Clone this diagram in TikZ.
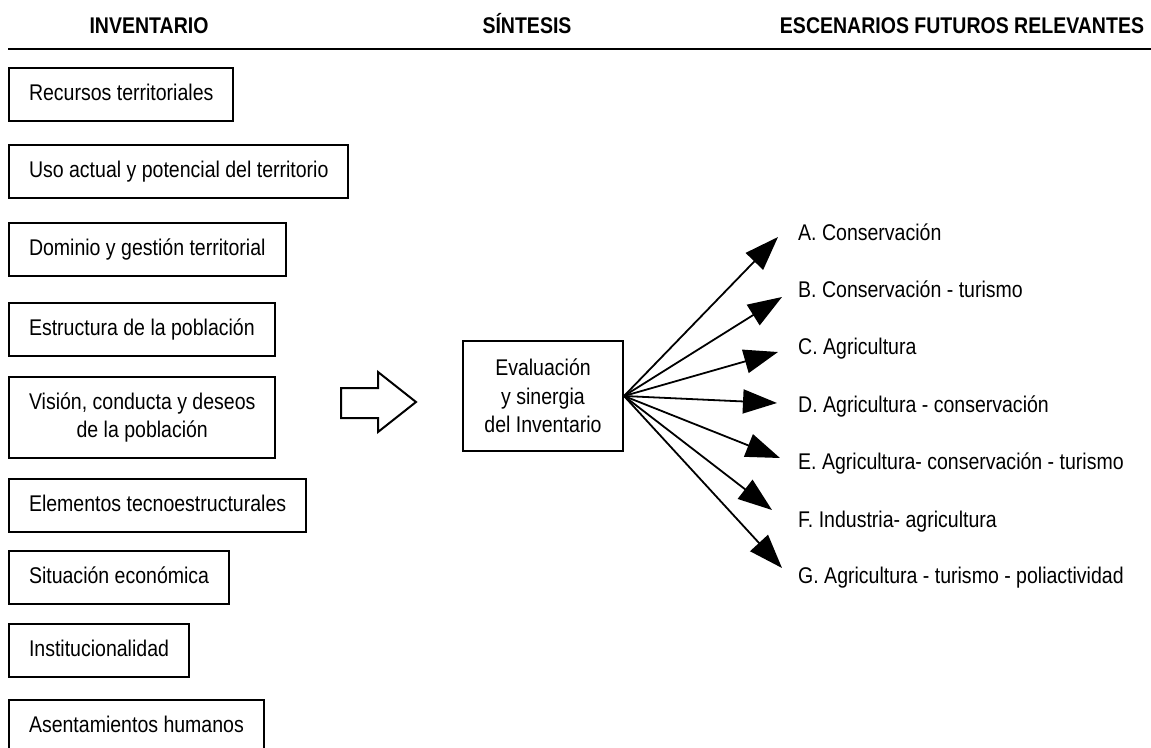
\documentclass[tikz,border=0pt]{standalone}
\usepackage{fontspec}
\setmainfont{Liberation Sans}[FakeStretch=0.86]
\usetikzlibrary{arrows.meta}

\begin{document}
\begin{tikzpicture}[x=1pt, y=-1pt,
    font=\fontsize{22.7}{28.5}\selectfont,
    caja/.style={draw, line width=2pt, anchor=west, inner xsep=20pt, minimum height=53pt, text height=17pt, text depth=5pt},
    caja2/.style={draw, line width=2pt, anchor=west, inner xsep=20pt, minimum height=81pt, align=center},
    titulo/.style={anchor=base, font=\fontsize{22.7}{28.5}\selectfont\bfseries},
    escenario/.style={anchor=base west, inner sep=0pt},
    flecha/.style={line width=1.8pt, -{Triangle[length=34pt,width=24pt]}}]
    \useasboundingbox (0,0) rectangle (1151,747);
    \clip (0,0) rectangle (1151,747);

    % Headers
    \node[titulo] (hInv) at (149,33) {INVENTARIO};
    \node[titulo] (hSin) at (527,33) {SÍNTESIS};
    \node[titulo] (hEsc) at (962,33) {ESCENARIOS FUTUROS RELEVANTES};
    \draw[line width=2.8pt] (8,49) -- (1151,49);

    % Inventario
    \node[caja] (recursos) at (8,94.5) {Recursos territoriales};
    \node[caja] (uso) at (8,171.5) {Uso actual y potencial del territorio};
    \node[caja] (dominio) at (8,249.5) {Dominio y gestión territorial};
    \node[caja] (estructura) at (8,329) {Estructura de la población};
    \node[caja2] (vision) at (8,417.5) {Visión, conducta y deseos\\de la población};
    \node[caja] (elementos) at (8,505.5) {Elementos tecnoestructurales};
    \node[caja] (situacion) at (8,577.5) {Situación económica};
    \node[caja] (instit) at (8,650.5) {Institucionalidad};
    \node[caja] (asent) at (8,726.5) {Asentamientos humanos};

    % Big hollow arrow
    \draw[line width=2pt, line join=miter] (341,388) -- (378,388) -- (378,372) -- (416,402)
        -- (378,432) -- (378,418) -- (341,418) -- cycle;

    % Sintesis
    \node[draw, line width=2pt, minimum width=160pt, minimum height=110pt, align=center]
        (sintesis) at (543,396) {Evaluación\\y sinergia\\del Inventario};

    % Escenarios
    \node[escenario] (scA) at (798,240) {A. Conservación};
    \node[escenario] (scB) at (798,297) {B. Conservación - turismo};
    \node[escenario] (scC) at (798,354) {C. Agricultura};
    \node[escenario] (scD) at (798,412) {D. Agricultura - conservación};
    \node[escenario] (scE) at (798,469) {E. Agricultura- conservación - turismo};
    \node[escenario] (scF) at (798,527) {F. Industria- agricultura};
    \node[escenario] (scG) at (798,583) {G. Agricultura - turismo - poliactividad};

    % Arrow tips
    \coordinate (tA) at (778,237);
    \coordinate (tB) at (782,297);
    \coordinate (tC) at (778,352);
    \coordinate (tD) at (777,403);
    \coordinate (tE) at (780,458);
    \coordinate (tF) at (772,510);
    \coordinate (tG) at (782,568);

    % Arrows
    \draw[flecha] (sintesis.east) -- (tA);
    \draw[flecha] (sintesis.east) -- (tB);
    \draw[flecha] (sintesis.east) -- (tC);
    \draw[flecha] (sintesis.east) -- (tD);
    \draw[flecha] (sintesis.east) -- (tE);
    \draw[flecha] (sintesis.east) -- (tF);
    \draw[flecha] (sintesis.east) -- (tG);
\end{tikzpicture}
\end{document}
